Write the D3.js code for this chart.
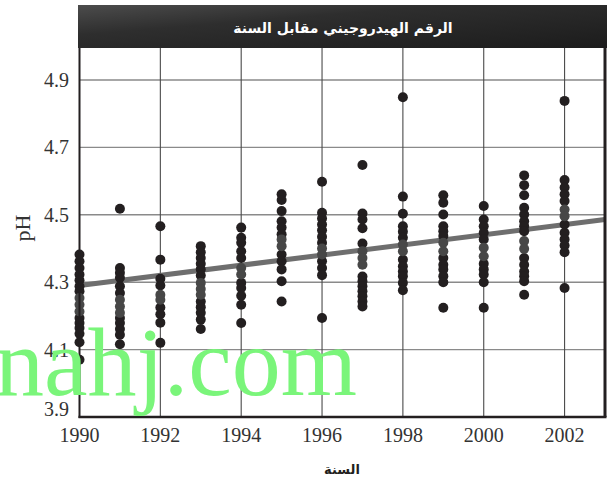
<!DOCTYPE html>
<html>
<head>
<meta charset="utf-8">
<script src="https://cdn.jsdelivr.net/npm/d3@7/dist/d3.min.js"></script>
<style>
  html, body { margin: 0; padding: 0; background: #fff; }
  svg { display: block; }
</style>
</head>
<body>
<svg id="chart" width="607" height="480"></svg>
<script>
// Annual pH readings (one list per year)
const years = [1990, 1991, 1992, 1993, 1994, 1995, 1996, 1997, 1998, 1999, 2000, 2001, 2002];
const phReadings = [
  [4.382, 4.362, 4.342, 4.323, 4.306, 4.288, 4.273, 4.194, 4.179, 4.164, 4.147, 4.122, 4.07],
  [4.518, 4.342, 4.328, 4.313, 4.288, 4.268, 4.194, 4.179, 4.161, 4.144, 4.116],
  [4.466, 4.367, 4.31, 4.29, 4.225, 4.205, 4.18, 4.12],
  [4.407, 4.389, 4.372, 4.355, 4.338, 4.32, 4.243, 4.226, 4.209, 4.189, 4.161],
  [4.462, 4.432, 4.417, 4.392, 4.372, 4.298, 4.283, 4.26, 4.233, 4.179],
  [4.561, 4.544, 4.511, 4.481, 4.462, 4.442, 4.382, 4.362, 4.338, 4.303, 4.243],
  [4.598, 4.506, 4.489, 4.471, 4.454, 4.435, 4.417, 4.362, 4.342, 4.321, 4.194],
  [4.648, 4.504, 4.486, 4.46, 4.415, 4.317, 4.303, 4.288, 4.273, 4.258, 4.243, 4.228],
  [4.849, 4.554, 4.503, 4.466, 4.45, 4.432, 4.367, 4.347, 4.332, 4.318, 4.298, 4.276],
  [4.558, 4.536, 4.501, 4.466, 4.451, 4.437, 4.372, 4.352, 4.338, 4.318, 4.3, 4.224],
  [4.526, 4.486, 4.466, 4.447, 4.427, 4.355, 4.338, 4.323, 4.3, 4.224],
  [4.617, 4.588, 4.558, 4.521, 4.501, 4.481, 4.466, 4.451, 4.372, 4.352, 4.332, 4.318, 4.303, 4.263],
  [4.838, 4.603, 4.581, 4.561, 4.541, 4.471, 4.447, 4.427, 4.409, 4.389, 4.283]
];
// Readings near each year's centre, drawn in grey
const phCentre = [
  [4.253, 4.233, 4.213],
  [4.248, 4.228, 4.209],
  [4.263, 4.248],
  [4.298, 4.28, 4.263],
  [4.342, 4.323],
  [4.427, 4.407],
  [4.4, 4.382],
  [4.392, 4.372, 4.352],
  [4.412, 4.392],
  [4.417, 4.392],
  [4.402, 4.377],
  [4.422, 4.399],
  [4.516, 4.496]
];
// Trend line end points [year, pH]
const trendYears = [1990, 2003];
const trendPH = [4.29, 4.486];

const xTicks = [1990, 1992, 1994, 1996, 1998, 2000, 2002];
const yTicks = [3.9, 4.1, 4.3, 4.5, 4.7, 4.9];

const titleText = "الرقم الهيدروجيني مقابل السنة";
const xTitle = "السنة";
const yTitle = "pH";
const watermark = "nahj.com";

const svg = d3.select("#chart");
const plotL = 79.5, plotR = 605, plotT = 48, plotB = 417;

const x = d3.scaleLinear().domain([1990, 2003]).range([plotL, plotR]);
const y = d3.scaleLinear().domain([3.9, 4.995]).range([plotB, plotT]);

// gradient for the heading band
const defs = svg.append("defs");
const grad = defs.append("linearGradient").attr("id", "band").attr("x1", 0).attr("y1", 0).attr("x2", 1).attr("y2", 1);
grad.append("stop").attr("offset", "0%").attr("stop-color", "#4c4c4c");
grad.append("stop").attr("offset", "35%").attr("stop-color", "#2e2e2e");
grad.append("stop").attr("offset", "100%").attr("stop-color", "#1c1c1c");

// grid
svg.append("g").selectAll("line").data(yTicks.filter(d => d > 3.9)).join("line")
  .attr("x1", plotL).attr("x2", plotR)
  .attr("y1", d => y(d)).attr("y2", d => y(d))
  .attr("stroke", "#8a8a8a").attr("stroke-width", 1.4);
svg.append("g").selectAll("line").data(xTicks.filter(d => d > 1990)).join("line")
  .attr("x1", d => x(d)).attr("x2", d => x(d))
  .attr("y1", plotT).attr("y2", plotB)
  .attr("stroke", "#4a4a4a").attr("stroke-width", 1.1);

// trend line
svg.append("line")
  .attr("x1", x(trendYears[0])).attr("y1", y(trendPH[0]))
  .attr("x2", x(trendYears[1])).attr("y2", y(trendPH[1]))
  .attr("stroke", "#6e6e6e").attr("stroke-width", 5);

// readings
const pts = [];
years.forEach((yr, i) => phReadings[i].forEach(v => pts.push({ yr, v })));
svg.append("g").selectAll("circle").data(pts).join("circle")
  .attr("cx", d => x(d.yr)).attr("cy", d => y(d.v)).attr("r", 5)
  .attr("fill", "#231f20");

const cpts = [];
years.forEach((yr, i) => phCentre[i].forEach(v => cpts.push({ yr, v })));
svg.append("g").selectAll("circle").data(cpts).join("circle")
  .attr("cx", d => x(d.yr)).attr("cy", d => y(d.v)).attr("r", 5)
  .attr("fill", "#474747");

// frame
svg.append("line").attr("x1", plotL).attr("x2", plotL).attr("y1", plotT).attr("y2", plotB + 1)
  .attr("stroke", "#231f20").attr("stroke-width", 2);
svg.append("line").attr("x1", plotL - 1).attr("x2", plotR + 1.5).attr("y1", plotB).attr("y2", plotB)
  .attr("stroke", "#231f20").attr("stroke-width", 2.5);
svg.append("line").attr("x1", plotR).attr("x2", plotR).attr("y1", plotT).attr("y2", plotB)
  .attr("stroke", "#231f20").attr("stroke-width", 3);

// heading band
svg.append("rect").attr("x", 78).attr("y", 5).attr("width", 607 - 78).attr("height", plotT - 5)
  .attr("fill", "url(#band)");
svg.append("text").attr("x", 343).attr("y", 33)
  .attr("text-anchor", "middle").attr("fill", "#fff")
  .attr("font-family", "'DejaVu Sans', sans-serif").attr("font-weight", "bold")
  .attr("font-size", 14).attr("direction", "rtl")
  .text(titleText);

// tick labels
svg.append("g").selectAll("text").data(yTicks).join("text")
  .attr("x", 69).attr("y", d => y(d) + (d === 3.9 ? -8 : 0))
  .attr("dy", "0.35em").attr("text-anchor", "end")
  .attr("font-family", "'Liberation Serif', serif").attr("font-size", 20).attr("fill", "#333")
  .text(d => d.toFixed(1));
svg.append("g").selectAll("text").data(xTicks).join("text")
  .attr("x", d => x(d)).attr("y", 442)
  .attr("text-anchor", "middle")
  .attr("font-family", "'Liberation Serif', serif").attr("font-size", 20).attr("fill", "#333")
  .text(d => d);

// axis titles
svg.append("text").attr("transform", "translate(30,228) rotate(-90)")
  .attr("text-anchor", "middle")
  .attr("font-family", "'Liberation Serif', serif").attr("font-size", 22).attr("fill", "#333")
  .text(yTitle);
svg.append("text").attr("x", 342).attr("y", 474)
  .attr("text-anchor", "middle").attr("fill", "#231f20")
  .attr("font-family", "'DejaVu Sans', sans-serif").attr("font-weight", "bold")
  .attr("font-size", 13).attr("direction", "rtl")
  .text(xTitle);

// watermark
svg.append("text").attr("x", 357).attr("y", 395)
  .attr("text-anchor", "end").attr("fill", "#7af57a")
  .attr("font-family", "'Liberation Serif', serif").attr("font-size", 98)
  .text(watermark);
</script>
</body>
</html>
